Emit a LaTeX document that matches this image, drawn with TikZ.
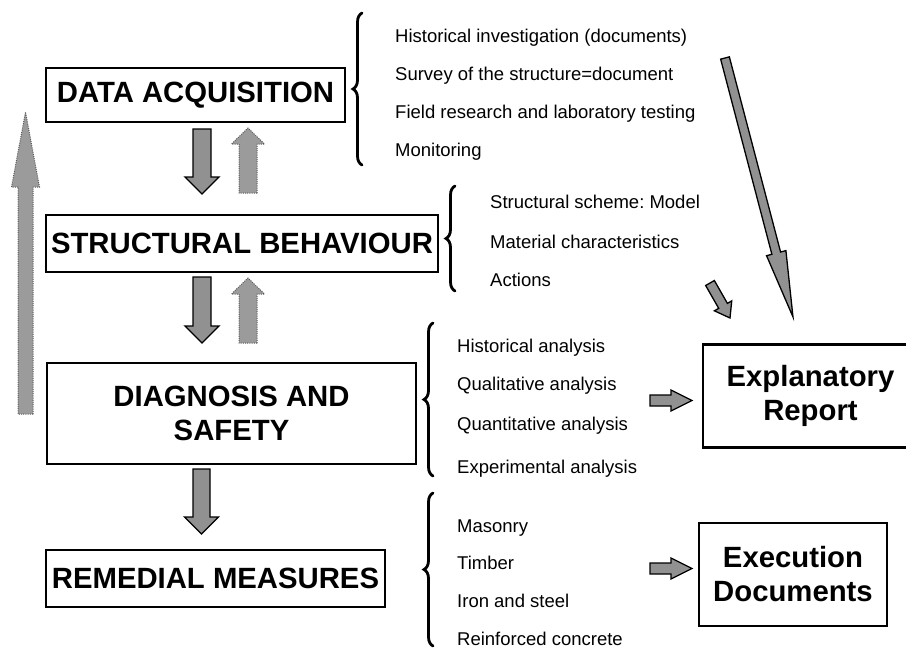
\documentclass[tikz,border=0pt]{standalone}
\usepackage{fontspec}
\setmainfont{Liberation Sans}
\usetikzlibrary{decorations.pathreplacing}
\definecolor{arrfill}{RGB}{145,145,145}
\definecolor{dotfill}{RGB}{155,155,155}
\definecolor{dotline}{RGB}{90,90,90}
\frenchspacing
\newcommand\rsBlockArrow[8]{%
  \pgfmathsetmacro\rsLen{veclen(#3-#1,#4-#2)}%
  \pgfmathsetmacro\rsAng{atan2(-(#4-#2),#3-#1)}%
  \begin{scope}[shift={(#1,#2)},rotate=\rsAng]
    \draw[#8] (0,#5) -- ({\rsLen-#7},#5) -- ({\rsLen-#7},#6) -- (\rsLen,0)
      -- ({\rsLen-#7},-#6) -- ({\rsLen-#7},-#5) -- (0,-#5) -- cycle;
  \end{scope}}
\begin{document}
\begin{tikzpicture}[x=1pt,y=-1pt,
  box/.style={draw=black, line width=2.5pt, inner sep=0pt, align=center,
    font=\bfseries\fontsize{29.3}{34}\selectfont},
  item/.style={anchor=base west, inner sep=0pt, font=\fontsize{18.5}{22}\selectfont},
  solidarr/.style={fill=arrfill, draw=black, line width=1.3pt, line join=miter},
  dotarr/.style={fill=dotfill, draw=dotline, line width=1pt, dash pattern=on 1pt off 1.2pt},
  bracestyle/.style={decorate, decoration={brace, amplitude=9pt}, line width=2.8pt, line cap=round}]
\useasboundingbox (0,0) rectangle (906,648);
\clip (0,0) rectangle (906,648);

% main boxes
\node[box, minimum width=299, minimum height=54] (da) at (195.5,95) {DATA ACQUISITION};
\node[box, minimum width=392, minimum height=57] (sb) at (242,243.5) {STRUCTURAL BEHAVIOUR};
\node[box, minimum width=369, minimum height=101] (ds) at (231.5,413.5) {DIAGNOSIS AND\\SAFETY};
\node[box, minimum width=339, minimum height=57] (rm) at (215.5,578.5) {REMEDIAL MEASURES};
\node[box, minimum width=215, minimum height=103] (er) at (810.5,396) {Explanatory\\Report};
\node[box, minimum width=188, minimum height=103] (ed) at (793,574.5) {Execution\\Documents};

% braces
\draw[bracestyle] (362,165) -- (362,13);
\draw[bracestyle] (455,291) -- (455,186);
\draw[bracestyle] (433,476) -- (433,323);
\draw[bracestyle] (433,646) -- (433,493);

% item lists
\node[item] (l1a) at (395,42.6) {Historical investigation (documents)};
\node[item] (l1b) at (395,80.6) {Survey of the structure=document};
\node[item] (l1c) at (395,118.6) {Field research and laboratory testing};
\node[item] (l1d) at (395,156.6) {Monitoring};
\node[item] (l2a) at (490,208.6) {Structural scheme: Model};
\node[item] (l2b) at (490,248.6) {Material characteristics};
\node[item] (l2c) at (490,286.6) {Actions};
\node[item] (l3a) at (457,352.4) {Historical analysis};
\node[item] (l3b) at (457,390.6) {Qualitative analysis};
\node[item] (l3c) at (457,430.6) {Quantitative analysis};
\node[item] (l3d) at (457,473.6) {Experimental analysis};
\node[item] (l4a) at (457,532.6) {Masonry};
\node[item] (l4b) at (457,569.6) {Timber};
\node[item] (l4c) at (457,607.6) {Iron and steel};
\node[item] (l4d) at (457,645.5) {Reinforced concrete};

% vertical block arrows
\rsBlockArrow{202}{129}{202}{194}{9}{17}{17}{solidarr}
\rsBlockArrow{202}{277}{202}{343}{9}{17}{17}{solidarr}
\rsBlockArrow{201.5}{469}{201.5}{534}{8.5}{17}{17}{solidarr}
\rsBlockArrow{248}{193}{248}{128}{9}{16.5}{16}{dotarr}
\rsBlockArrow{248}{343}{248}{278}{9}{16.5}{16}{dotarr}
\rsBlockArrow{25.5}{414}{25.5}{112}{7.5}{14}{75}{dotarr}

% horizontal block arrows
\rsBlockArrow{650}{400.5}{692}{400.5}{5.5}{10.5}{21}{solidarr}
\rsBlockArrow{650}{568.5}{692}{568.5}{5.5}{10.5}{21}{solidarr}

% diagonal block arrows
\rsBlockArrow{725}{58}{793}{317}{4.5}{10}{66}{solidarr}
\rsBlockArrow{710}{283}{730}{318}{5}{10}{14}{solidarr}
\end{tikzpicture}
\end{document}
